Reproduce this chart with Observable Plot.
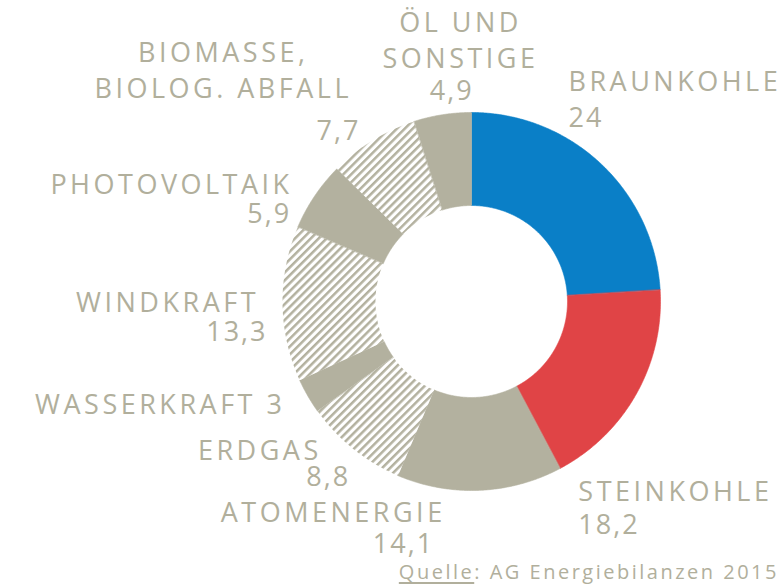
<!DOCTYPE html>
<html><head><meta charset="utf-8">
<script src="https://cdn.jsdelivr.net/npm/d3@7"></script>
<script src="https://cdn.jsdelivr.net/npm/@observablehq/plot@0.6"></script>
<style>
body{margin:0;background:#fff;}
#chart{width:781px;height:588px;overflow:hidden;}
#caption{width:779px;text-align:right;font-family:"Open Sans",sans-serif;font-size:20px;letter-spacing:2.5px;color:#b1af9c;line-height:22px;margin-top:1px;}
#caption u{text-decoration-thickness:1.5px;text-underline-offset:3px;}
</style></head><body><div id="chart"></div>
<script>
// ---- data ----
const names = ["BRAUNKOHLE","STEINKOHLE","ATOMENERGIE","ERDGAS","WASSERKRAFT","WINDKRAFT","PHOTOVOLTAIK","BIOMASSE,\nBIOLOG. ABFALL","ÖL UND\nSONSTIGE"];
const values = [24, 18.2, 14.1, 8.8, 3, 13.3, 5.9, 7.7, 4.9];
const valueLabels = ["24","18,2","14,1","8,8","3","13,3","5,9","7,7","4,9"];
const kinds = ["braun","stein","solid","hatch","solid","hatch","solid","hatch","solid"];
const sourceLabel = "Quelle";
const sourceText = "AG Energiebilanzen 2015";

// ---- style / layout ----
const W = 781, H = 560;
const cx = 471, cy = 301, R = 189, r0 = 96, rLabel = 197;
const gray = "#b3b19f", textColor = "#b1af9c";
const fills = {braun: "#0a7fc7", stein: "#e04446", solid: gray, hatch: "url(#hatch)"};
const fontSize = 27, fontFamily = "Open Sans";
const nameSpacing = 3.5, valueSpacing = 2;
// label nudges relative to the slice's mid-angle anchor point
const layout = [
  {n:[-38,-67,"start"], v:[-38,-31,"start"]},
  {n:[-65,103,"start"], v:[-65,136,"start"]},
  {n:[-38,24,"end"],   v:[-48,55,"end"]},
  {n:[-30,5,"end"],    v:[0,31,"end"]},
  {n:[-19,14,"end"],   inline:true},
  {n:[-19,8,"end"],    v:[-9,37,"end"]},
  {n:[-19,3,"end"],    v:[-19,32,"end"]},
  {n:[-147,-36,"middle"], v:[-10,6,"end"]},
  {n:[17.5,-38.5,"middle"], v:[9.5,-6.5,"middle"]}
];
const shift = (anchor, ls) => anchor === "end" ? ls : anchor === "middle" ? ls / 2 : 0;

const pie = d3.pie().sort(null).value(d => d)(values);
const polar = (a, r) => ({x: cx + r * Math.sin(a), y: cy - r * Math.cos(a)});
const slices = pie.map((p) => {
  const n = Math.max(2, Math.ceil((p.endAngle - p.startAngle) / (Math.PI / 360)));
  const pts = [];
  for (let k = 0; k <= n; k++) pts.push(polar(p.startAngle + (p.endAngle - p.startAngle) * k / n, R));
  for (let k = n; k >= 0; k--) pts.push(polar(p.startAngle + (p.endAngle - p.startAngle) * k / n, r0));
  return pts;
});

const marks = [];
slices.forEach((pts, i) => {
  const f = fills[kinds[i]];
  marks.push(Plot.line(pts, {x: "x", y: "y", fill: f, stroke: kinds[i] === "hatch" ? "none" : f, strokeWidth: 0.6, curve: "linear-closed"}));
});
pie.forEach((p, i) => {
  const mid = (p.startAngle + p.endAngle) / 2;
  const P = polar(mid, rLabel);
  const L = layout[i];
  const nameText = L.inline ? names[i] + " " + valueLabels[i] : names[i];
  marks.push(Plot.text([{x: P.x + L.n[0] + shift(L.n[2], nameSpacing), y: P.y + L.n[1], t: nameText}], {
    x: "x", y: "y", text: "t", textAnchor: L.n[2], lineAnchor: "bottom", lineHeight: 1.33,
    fontSize, fill: textColor, fontFamily, className: "lbl-name"
  }));
  if (!L.inline) {
    marks.push(Plot.text([{x: P.x + L.v[0] + shift(L.v[2], valueSpacing), y: P.y + L.v[1], t: valueLabels[i]}], {
      x: "x", y: "y", text: "t", textAnchor: L.v[2], lineAnchor: "bottom",
      fontSize, fill: textColor, fontFamily, className: "lbl-value"
    }));
  }
});

const svg = Plot.plot({
  width: W, height: H, margin: 0,
  x: {domain: [0, W], range: [0, W], axis: null},
  y: {domain: [0, H], range: [0, H], axis: null},
  style: {background: "white", overflow: "visible"},
  marks
});
d3.select(svg).selectAll(".lbl-name text").style("letter-spacing", nameSpacing + "px");
d3.select(svg).selectAll(".lbl-value text").style("letter-spacing", valueSpacing + "px");
const defs = d3.select(svg).insert("defs", ":first-child");
const pat = defs.append("pattern").attr("id", "hatch").attr("patternUnits", "userSpaceOnUse")
  .attr("width", 5.6).attr("height", 5.6).attr("patternTransform", "rotate(45)");
pat.append("rect").attr("width", 5.6).attr("height", 5.6).attr("fill", "white");
pat.append("rect").attr("width", 2.5).attr("height", 5.6).attr("fill", gray);

const chart = document.getElementById("chart");
chart.appendChild(svg);
const cap = document.createElement("div");
cap.id = "caption";
const u = document.createElement("u");
u.textContent = sourceLabel;
cap.appendChild(u);
cap.appendChild(document.createTextNode(": " + sourceText));
chart.appendChild(cap);
</script>
</body></html>
